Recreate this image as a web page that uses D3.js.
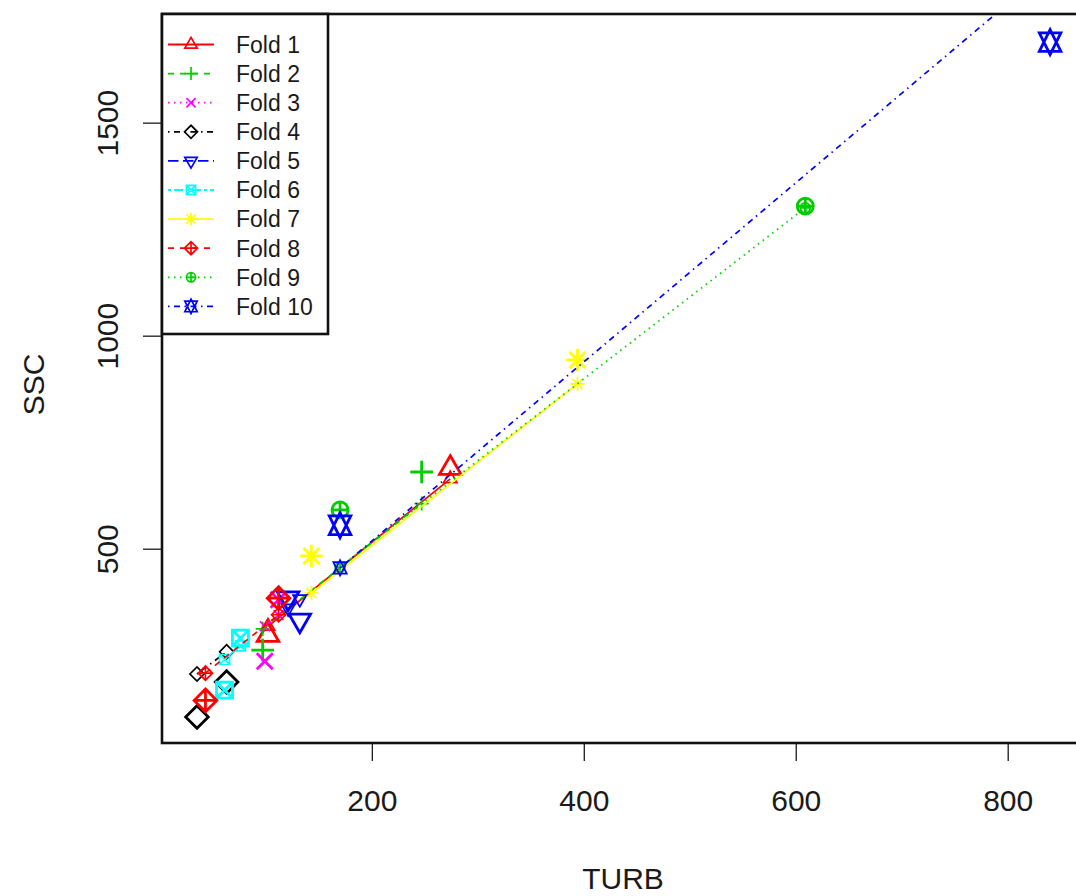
<!DOCTYPE html>
<html><head><meta charset="utf-8">
<script src="https://cdn.jsdelivr.net/npm/d3@7"></script>
<style>
body{margin:0;background:#fff}
svg{display:block}
text{font-family:"Liberation Sans",Arial,Helvetica,sans-serif;fill:#1a1a1a}
</style>
</head><body>
<svg id="chart" width="1076" height="896"></svg>
<script>
// ---------- data ----------
const folds = ["Fold 1","Fold 2","Fold 3","Fold 4","Fold 5","Fold 6","Fold 7","Fold 8","Fold 9","Fold 10"];
const foldOf    = [1,1, 2,2, 3,3, 4,4, 5,5, 6,6, 7,7, 8,8, 9,9, 10,10];
const turb      = [102,274, 97,247, 99,112, 35,63, 121,132, 61,76, 143,394, 43,112, 170,609, 170,840];
const ssc       = [297,689, 262,680, 236,380, 105,187, 384,332, 168,290, 483,943, 144,384, 591,1304, 555,1689];
const predicted = [318,664, 312,606, 318,344, 206,258, 360,382, 240,272, 396,887, 208,345, 457,1300, 455,1863];
const xTicks = [200,400,600,800];
const yTicks = [500,1000,1500];
const xLimits = [2, 872];
const yLimits = [44, 1755];
const xTitle = "TURB", yTitle = "SSC";

// ---------- styles ----------
const foldColors = ["#FF0000","#00CD00","#FF00FF","#000000","#0000FF","#00FFFF","#FFFF00","#FF0000","#00CD00","#0000FF"];
const foldLty = ["solid","dashed","dotted","dotdash","longdash","twodash","solid","dashed","dotted","dotdash"];
const foldPch = [2,3,4,5,6,7,8,9,10,11];
const dashes = {solid:null, dashed:"6,6", dotted:"1.5,4.5", dotdash:"1.5,4.5,6,4.5", longdash:"10.5,4.5", twodash:"3,3,9,3"};

const plot = {left:162, right:1084, top:14, bottom:743};
const svg = d3.select("#chart");
svg.append("rect").attr("width",1076).attr("height",896).attr("fill","#fff");

const x = d3.scaleLinear().domain(xLimits).range([plot.left, plot.right]);
const y = d3.scaleLinear().domain(yLimits).range([plot.bottom, plot.top]);

// R-like symbol paths
function sym(pch, s){
  const r2 = Math.SQRT2*s, T0=1.5551*s, T1=1.3468*s, T2=0.7776*s;
  const diamond = `M${-r2},0L0,${-r2}L${r2},0L0,${r2}Z`;
  const plus = (a)=>`M${-a},0H${a}M0,${-a}V${a}`;
  const cross = (a)=>`M${-a},${-a}L${a},${a}M${-a},${a}L${a},${-a}`;
  switch(pch){
    case 2: return `M0,${-T0}L${T1},${T2}L${-T1},${T2}Z`;
    case 6: return `M0,${T0}L${T1},${-T2}L${-T1},${-T2}Z`;
    case 3: return plus(r2);
    case 4: return cross(s);
    case 5: return diamond;
    case 7: return `M${-s},${-s}H${s}V${s}H${-s}Z` + cross(s);
    case 8: return cross(s) + plus(r2);
    case 9: return diamond + plus(r2);
    case 10: return `M${s},0A${s},${s} 0 1,1 ${-s},0A${s},${s} 0 1,1 ${s},0Z` + plus(s);
    case 11: { const yc = 0.5*(T2+T0);
      return `M0,${-T0}L${T1},${yc}L${-T1},${yc}Z` + `M0,${T0}L${T1},${-yc}L${-T1},${-yc}Z`; }
  }
}

// clip
svg.append("clipPath").attr("id","clip").append("rect")
  .attr("x",plot.left).attr("y",plot.top).attr("width",plot.right-plot.left).attr("height",plot.bottom-plot.top);
const g = svg.append("g").attr("clip-path","url(#clip)");

const idx = d3.range(turb.length);
folds.forEach((f,k)=>{
  const fi = k+1;
  const pts = idx.filter(i=>foldOf[i]===fi).sort((a,b)=>turb[a]-turb[b]);
  const col = foldColors[k];
  // observed (large)
  g.selectAll(null).data(pts).enter().append("path")
    .attr("d", sym(foldPch[k], 8))
    .attr("transform", i=>`translate(${x(turb[i])},${y(ssc[i])})`)
    .attr("fill","none").attr("stroke",col).attr("stroke-width",2.8);
  // fitted line
  g.append("path").datum(pts)
    .attr("d", d3.line().x(i=>x(turb[i])).y(i=>y(predicted[i])))
    .attr("fill","none").attr("stroke",col).attr("stroke-width",1.7)
    .attr("stroke-dasharray", dashes[foldLty[k]]);
  // predicted (small)
  g.selectAll(null).data(pts).enter().append("path")
    .attr("d", sym(foldPch[k], 5))
    .attr("transform", i=>`translate(${x(turb[i])},${y(predicted[i])})`)
    .attr("fill","none").attr("stroke",col).attr("stroke-width",1.7);
});

// axes
const xAxis = d3.axisBottom(x).tickValues(xTicks).tickSize(18).tickPadding(29).tickFormat(d3.format("d"));
const xa = svg.append("g").attr("transform",`translate(0,${plot.bottom})`).call(xAxis);
xa.select(".domain").remove();
xa.selectAll("line").attr("stroke","#1a1a1a").attr("stroke-width",1.3);
xa.selectAll("text").attr("font-size",30).attr("font-family",null).attr("fill","#1a1a1a");

const yAxis = d3.axisLeft(y).tickValues(yTicks).tickSize(19).tickFormat(d3.format("d"));
const ya = svg.append("g").attr("transform",`translate(${plot.left},0)`).call(yAxis);
ya.select(".domain").remove();
ya.selectAll("line").attr("stroke","#1a1a1a").attr("stroke-width",1.3);
ya.selectAll("text").attr("font-size",30).attr("font-family",null).attr("fill","#1a1a1a")
  .attr("transform","rotate(-90)").attr("x",0).attr("y",-44).attr("dy",null)
  .attr("text-anchor","middle");

// titles
svg.append("text").attr("x",(plot.left+plot.right)/2).attr("y",889)
  .attr("text-anchor","middle").attr("font-size",30).text(xTitle);
svg.append("text").attr("transform",`translate(44,${(plot.top+plot.bottom)/2 + 6}) rotate(-90)`)
  .attr("text-anchor","middle").attr("font-size",30).text(yTitle);

// box
svg.append("rect").attr("x",plot.left).attr("y",plot.top)
  .attr("width",plot.right-plot.left).attr("height",plot.bottom-plot.top)
  .attr("fill","none").attr("stroke","#111").attr("stroke-width",2.6);

// legend
const lg = svg.append("g");
lg.append("rect").attr("x",plot.left).attr("y",plot.top).attr("width",328-plot.left).attr("height",334-plot.top)
  .attr("fill","#fff").attr("stroke","#111").attr("stroke-width",2.6);
const rowY = k => 44.5 + k*29.1;
folds.forEach((f,k)=>{
  const col = foldColors[k];
  lg.append("line").attr("x1",168).attr("x2",214).attr("y1",rowY(k)).attr("y2",rowY(k))
    .attr("stroke",col).attr("stroke-width",1.8).attr("stroke-dasharray",dashes[foldLty[k]]);
  lg.append("path").attr("d",sym(foldPch[k],4.6)).attr("transform",`translate(191,${rowY(k)})`)
    .attr("fill","none").attr("stroke",col).attr("stroke-width",1.7);
  lg.append("text").attr("x",236).attr("y",rowY(k)+8.3).attr("font-size",23).text(f);
});
</script>
</body></html>
